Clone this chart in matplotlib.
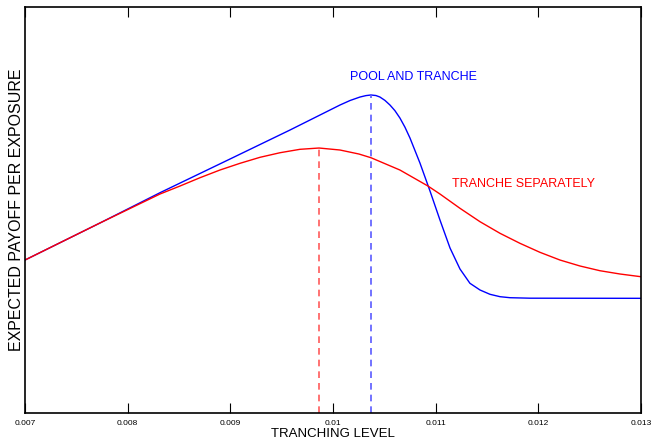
import matplotlib
matplotlib.use('Agg')
import matplotlib.pyplot as plt

# values (y is in arbitrary units, the axis has no ticks)
blue_x = [0.007000, 0.007730, 0.008315, 0.008997, 0.009581, 0.010068, 0.010166,
          0.010263, 0.010321, 0.010370, 0.010418, 0.010457, 0.010506, 0.010555,
          0.010603, 0.010652, 0.010701, 0.010750, 0.010847, 0.010945, 0.011042,
          0.011140, 0.011237, 0.011334, 0.011432, 0.011529, 0.011627, 0.011724,
          0.011919, 0.013000]
blue_y = [0.3768, 0.4680, 0.5426, 0.6256, 0.6970, 0.7586, 0.7697, 0.7783, 0.7818,
          0.7833, 0.7820, 0.7783, 0.7700, 0.7586, 0.7448, 0.7266, 0.7040, 0.6773,
          0.6158, 0.5468, 0.4754, 0.4064, 0.3547, 0.3195, 0.3030, 0.2924, 0.2865,
          0.2840, 0.2828, 0.2825]

red_x = [0.007000, 0.007730, 0.008315, 0.008510, 0.008705, 0.008899, 0.009094,
         0.009289, 0.009484, 0.009678, 0.009864, 0.010068, 0.010253, 0.010370,
         0.010652, 0.010925, 0.011042, 0.011237, 0.011432, 0.011627, 0.011821,
         0.012016, 0.012211, 0.012406, 0.012600, 0.012795, 0.013000]
red_y = [0.3768, 0.4680, 0.5394, 0.5591, 0.5796, 0.5985, 0.6150, 0.6298, 0.6411,
         0.6495, 0.6527, 0.6478, 0.6379, 0.6288, 0.5985, 0.5591, 0.5394, 0.5042,
         0.4712, 0.4426, 0.4180, 0.3958, 0.3768, 0.3621, 0.3505, 0.3424, 0.3357]

# optimum tranching levels (dashed markers)
blue_peak_x, blue_peak_y = 0.010370, 0.7833
red_peak_x, red_peak_y = 0.009864, 0.6527

x_ticks = [0.007, 0.008, 0.009, 0.01, 0.011, 0.012, 0.013]
x_tick_labels = ['0.007', '0.008', '0.009', '0.01', '0.011', '0.012', '0.013']

font = ['Liberation Sans', 'DejaVu Sans']

fig = plt.figure(figsize=(6.51, 4.44), dpi=100)
ax = fig.add_axes([0.0384, 0.0698, 0.9462, 0.9144])

ax.plot(blue_x, blue_y, color='#0000ff', lw=1.0)
ax.plot(red_x, red_y, color='#ff0000', lw=1.0)
ax.plot([blue_peak_x, blue_peak_x], [0, blue_peak_y], color='#5a5aff', lw=1.2, ls=(0, (4, 3)))
ax.plot([red_peak_x, red_peak_x], [0, red_peak_y], color='#ff5a5a', lw=1.2, ls=(0, (4, 3)))

ax.text(0.010784, 0.8264, 'POOL AND TRANCHE', color='#0000ff', fontsize=9,
        family=font, ha='center', va='center')
ax.text(0.011159, 0.5653, 'TRANCHE SEPARATELY', color='#ff0000', fontsize=9,
        family=font, ha='left', va='center')

ax.set_xlim(0.007, 0.013)
ax.set_ylim(0, 1)
ax.set_xticks(x_ticks)
ax.set_xticklabels(x_tick_labels, family=font, fontsize=6)
ax.set_yticks([])
ax.tick_params(axis='x', direction='in', length=7, width=0.8, top=True, pad=5)
for sp in ax.spines.values():
    sp.set_linewidth(1.2)

ax.set_xlabel('TRANCHING LEVEL', family=font, fontsize=9.5, labelpad=1)
ax.set_ylabel('EXPECTED PAYOFF PER EXPOSURE', family=font, fontsize=11.5, labelpad=1)

fig.savefig('out.png', dpi=100)
